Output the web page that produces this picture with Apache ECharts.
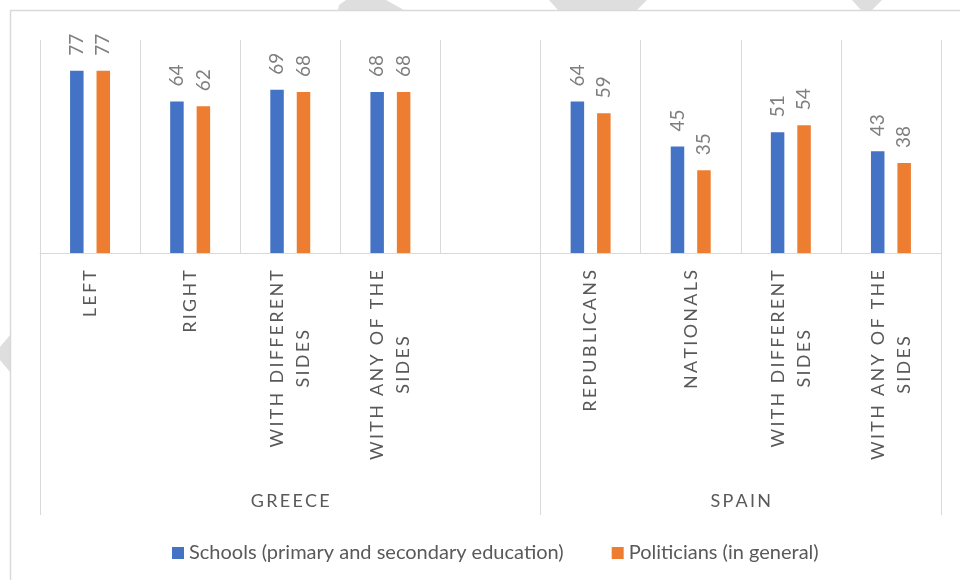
<!DOCTYPE html>
<html>
<head>
<meta charset="utf-8">
<script src="https://cdn.jsdelivr.net/npm/echarts@6/dist/echarts.min.js"></script>
<style>
  html, body { margin: 0; padding: 0; background: #fff; }
  #chart { width: 960px; height: 580px; }
</style>
</head>
<body>
<div id="chart"></div>
<script>
// Survey results: trust in schools vs. politicians by side, Greece and Spain
const categories = [
  'LEFT', 'RIGHT', 'WITH DIFFERENT\nSIDES', 'WITH ANY OF THE\nSIDES', '',
  'REPUBLICANS', 'NATIONALS', 'WITH DIFFERENT\nSIDES', 'WITH ANY OF THE\nSIDES'
];
const groups = ['GREECE', 'SPAIN'];
const groupSpans = [5, 4];
const schools = [77, 64, 69, 68, null, 64, 45, 51, 43];
const politicians = [77, 62, 68, 68, null, 59, 35, 54, 38];
const seriesNames = ['Schools (primary and secondary education)', 'Politicians (in general)'];

const FONT = 'Lato, "Open Sans", "DejaVu Sans", sans-serif';
const GRID_COLOR = '#d9d9d9';
const TEXT_COLOR = '#595959';

// widen tracking by putting a thin space between letters
function spaced(s) {
  return s.split('').join('\u2009');
}

// group boundaries and centres on the 0..N value scale of the outer axis
const groupEdges = [0];
groupSpans.forEach(n => groupEdges.push(groupEdges[groupEdges.length - 1] + n));
const groupCentres = groups.map((g, i) => (groupEdges[i] + groupEdges[i + 1]) / 2);

const chart = echarts.init(document.getElementById('chart'), null, { renderer: 'canvas' });

const option = {
  animation: false,
  backgroundColor: '#ffffff',
  color: ['#4472C4', '#ED7D31'],
  textStyle: { fontFamily: FONT },
  graphic: [
    // faint shapes along the page edge
    { type: 'polygon', silent: true, z: 0,
      shape: { points: [[346, 0], [386, 0], [404, 10], [338, 10], [339, 5]] },
      style: { fill: '#dedede' } },
    { type: 'polygon', silent: true, z: 0,
      shape: { points: [[549, 0], [647, 0], [637, 10], [558, 10]] },
      style: { fill: '#dedede' } },
    { type: 'polygon', silent: true, z: 0,
      shape: { points: [[852, 0], [882, 0], [872, 10], [861, 10]] },
      style: { fill: '#dedede' } },
    { type: 'polygon', silent: true, z: 0,
      shape: { points: [[0, 347], [10, 335], [10, 372], [0, 360]] },
      style: { fill: '#dedede' } },
    // chart area frame
    { type: 'rect', silent: true, z: 1,
      shape: { x: 10.5, y: 10.5, width: 1000, height: 640 },
      style: { fill: 'none', stroke: GRID_COLOR, lineWidth: 1.5 } }
  ],
  legend: {
    top: 538,
    left: 167,
    icon: 'rect',
    itemWidth: 12,
    itemHeight: 12,
    itemGap: 48,
    textStyle: { fontSize: 20, color: TEXT_COLOR, fontFamily: FONT },
    data: seriesNames
  },
  grid: { left: 40, top: 40, width: 901, height: 213, containLabel: false },
  xAxis: [
    {
      type: 'category',
      data: categories,
      boundaryGap: true,
      axisLine: { show: true, lineStyle: { color: GRID_COLOR, width: 1 } },
      axisTick: { show: false },
      splitLine: { show: true, lineStyle: { color: GRID_COLOR, width: 1 } },
      axisLabel: {
        interval: 0,
        rotate: 90,
        margin: 17,
        formatter: v => v.split('\n').map(l => '{c|' + spaced(l) + '}').join('\n'),
        rich: {
          c: { align: 'center', fontSize: 18, lineHeight: 26, color: TEXT_COLOR, fontFamily: FONT }
        }
      }
    },
    {
      type: 'value',
      min: 0,
      max: groupEdges[groupEdges.length - 1],
      position: 'bottom',
      axisLine: { show: false },
      splitLine: { show: false },
      axisTick: {
        show: true,
        inside: false,
        length: 262,
        customValues: groupEdges,
        lineStyle: { color: GRID_COLOR, width: 1 }
      },
      axisLabel: {
        show: true,
        margin: 239,
        customValues: groupCentres,
        fontSize: 18,
        color: TEXT_COLOR,
        fontFamily: FONT,
        formatter: v => {
          const i = groupCentres.indexOf(v);
          return i >= 0 ? spaced(groups[i]) : '';
        }
      }
    }
  ],
  yAxis: {
    type: 'value',
    min: 0,
    max: 90,
    show: false,
    splitLine: { show: false }
  },
  series: [
    {
      name: seriesNames[0],
      type: 'bar',
      xAxisIndex: 0,
      data: schools,
      barWidth: 13.5,
      barGap: '96%',
      label: {
        show: true,
        position: 'top',
        rotate: 90,
        align: 'left',
        verticalAlign: 'middle',
        distance: 15,
        fontSize: 19,
        color: '#7f7f7f',
        fontFamily: FONT
      }
    },
    {
      name: seriesNames[1],
      type: 'bar',
      xAxisIndex: 0,
      data: politicians,
      barWidth: 13.5,
      barGap: '96%',
      label: {
        show: true,
        position: 'top',
        rotate: 90,
        align: 'left',
        verticalAlign: 'middle',
        distance: 15,
        fontSize: 19,
        color: '#7f7f7f',
        fontFamily: FONT
      }
    }
  ]
};

chart.setOption(option);
</script>
</body>
</html>
